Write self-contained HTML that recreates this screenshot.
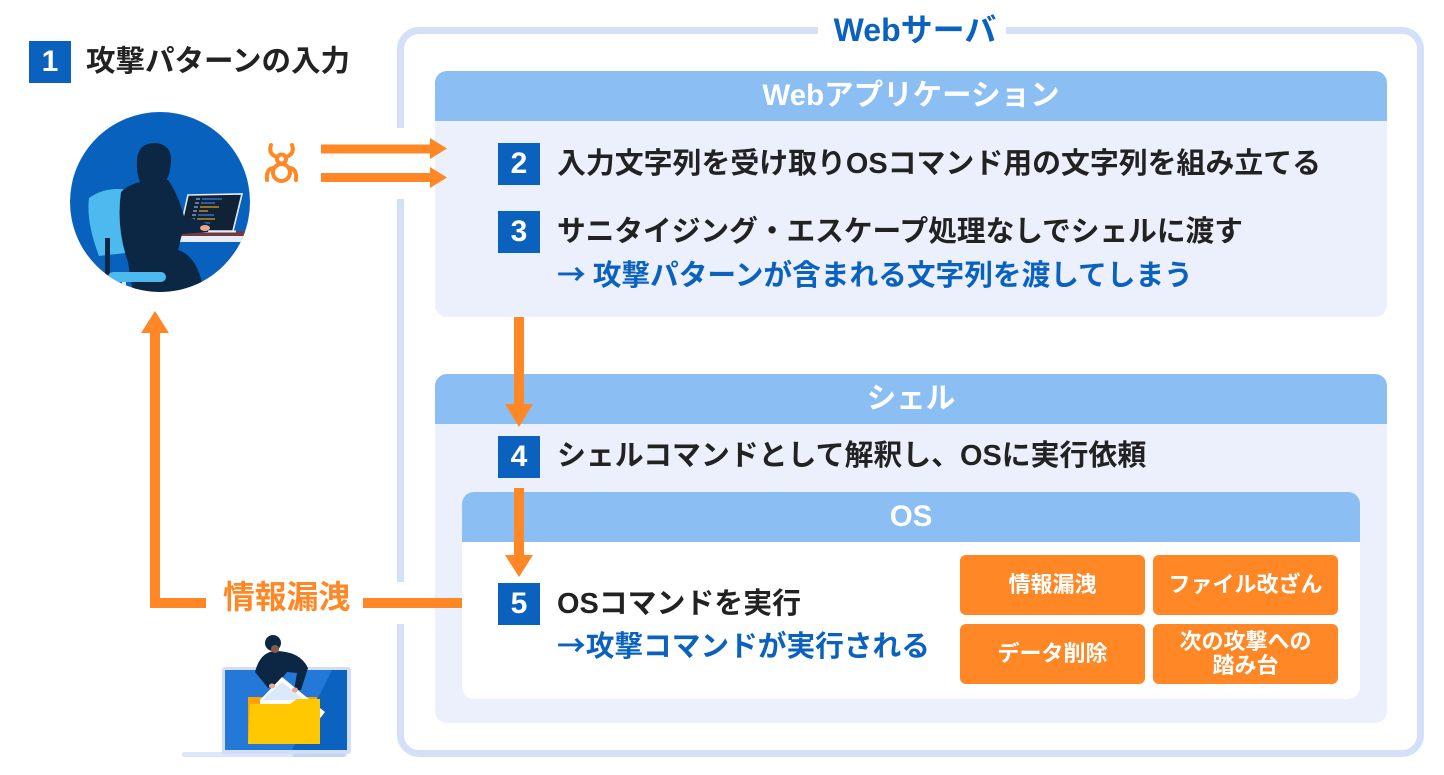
<!DOCTYPE html>
<html lang="ja">
<head>
<meta charset="utf-8">
<style>
  html,body{margin:0;padding:0;background:#fff;}
  body{width:1444px;height:775px;position:relative;overflow:hidden;
    font-family:"Liberation Sans","Noto Sans CJK JP",sans-serif;font-weight:bold;}
  .abs{position:absolute;}
  .t{position:absolute;white-space:nowrap;line-height:40px;height:40px;}
  .dark{color:#222;}
  .blue{color:#0a62be;}
  .badge{position:absolute;width:42px;height:42px;background:#0a62be;color:#fff;
    font-size:30px;line-height:42px;text-align:center;font-family:"Liberation Sans",sans-serif;font-weight:bold;}
  .box{position:absolute;border-radius:12px;overflow:hidden;}
  .hdr{height:50px;background:#8bbef2;color:#fff;text-align:center;line-height:50px;font-size:29.5px;}
  .ob{position:absolute;width:185px;height:60px;background:#ff8726;border-radius:6px;color:#fff;
    font-size:22px;display:flex;align-items:center;justify-content:center;text-align:center;line-height:24px;}
  .arr{font-family:"Noto Sans CJK JP",sans-serif;}
</style>
</head>
<body>

<!-- Outer Web server frame -->
<div class="abs" style="left:397px;top:27px;width:1027px;height:730px;box-sizing:border-box;border:7px solid #d4e0f8;border-radius:22px;"></div>
<!-- gaps -->
<div class="abs" style="left:394px;top:128px;width:14px;height:71px;background:#fff;"></div>
<div class="abs" style="left:394px;top:582px;width:14px;height:42px;background:#fff;"></div>
<div class="abs" style="left:818px;top:20px;width:188px;height:20px;background:#fff;"></div>
<div class="t blue" style="left:815px;top:10px;width:200px;text-align:center;font-size:32px;">Webサーバ</div>

<!-- Web application box -->
<div class="box" style="left:435px;top:71px;width:952px;height:246px;background:#ebf0fc;">
  <div class="hdr">Webアプリケーション</div>
</div>
<!-- Shell box -->
<div class="box" style="left:435px;top:374px;width:952px;height:349px;background:#ebf0fc;">
  <div class="hdr">シェル</div>
</div>
<!-- OS box -->
<div class="box" style="left:462px;top:492px;width:898px;height:207px;background:#fff;">
  <div class="hdr">OS</div>
</div>

<!-- Heading 1 -->
<div class="badge" style="left:29px;top:41px;">1</div>
<div class="t dark" style="left:86px;top:42px;font-size:29.5px;">攻撃パターンの入力</div>

<!-- Step 2 -->
<div class="badge" style="left:498px;top:143px;">2</div>
<div class="t dark" style="left:557px;top:144px;font-size:28.9px;">入力文字列を受け取りOSコマンド用の文字列を組み立てる</div>

<!-- Step 3 -->
<div class="badge" style="left:498px;top:211px;">3</div>
<div class="t dark" style="left:557px;top:212px;font-size:28.7px;">サニタイジング・エスケープ処理なしでシェルに渡す</div>
<div class="t blue" style="left:557px;top:254px;font-size:28.7px;"><span class="arr">→</span><span style="display:inline-block;width:7px;"></span>攻撃パターンが含まれる文字列を渡してしまう</div>

<!-- Step 4 -->
<div class="badge" style="left:498px;top:436px;">4</div>
<div class="t dark" style="left:557px;top:436px;font-size:28.9px;">シェルコマンドとして解釈し、OSに実行依頼</div>

<!-- Step 5 -->
<div class="badge" style="left:498px;top:583px;">5</div>
<div class="t dark" style="left:557px;top:584px;font-size:28.9px;">OSコマンドを実行</div>
<div class="t blue" style="left:557px;top:625px;font-size:28.7px;"><span class="arr">→</span>攻撃コマンドが実行される</div>

<!-- Orange result boxes -->
<div class="ob" style="left:960px;top:555px;">情報漏洩</div>
<div class="ob" style="left:1153px;top:555px;">ファイル改ざん</div>
<div class="ob" style="left:960px;top:624px;">データ削除</div>
<div class="ob" style="left:1153px;top:624px;">次の攻撃への<br>踏み台</div>

<!-- Left label -->
<div class="t" style="left:223px;top:577px;font-size:31.8px;color:#ff8726;">情報漏洩</div>

<!-- Shapes / arrows / illustrations -->
<svg class="abs" style="left:0;top:0;" width="1444" height="775" viewBox="0 0 1444 775" xmlns="http://www.w3.org/2000/svg">
  <defs>
    <clipPath id="cc"><circle cx="160" cy="202" r="90"/></clipPath>
  </defs>

  <!-- horizontal arrows into web app -->
  <rect x="321" y="144.5" width="112" height="9" fill="#ff8726"/>
  <polygon points="430,138 447,148.5 430,159" fill="#ff8726"/>
  <rect x="321" y="173" width="112" height="9" fill="#ff8726"/>
  <polygon points="430,167 447,177.5 430,188" fill="#ff8726"/>

  <!-- down arrow 1 -->
  <rect x="514" y="317" width="10" height="90" fill="#ff8726"/>
  <polygon points="505,404 533,404 519,427" fill="#ff8726"/>
  <!-- down arrow 2 -->
  <rect x="514" y="488" width="10" height="70" fill="#ff8726"/>
  <polygon points="505,555 533,555 519,577" fill="#ff8726"/>

  <!-- leak line and up arrow -->
  <rect x="363" y="598" width="99" height="10" fill="#ff8726"/>
  <rect x="150" y="598" width="56" height="10" fill="#ff8726"/>
  <rect x="150" y="331" width="10" height="277" fill="#ff8726"/>
  <polygon points="141,333 169,333 155,311" fill="#ff8726"/>

  <!-- bug icon -->
  <g fill="none" stroke="#ff8726" stroke-width="4" stroke-linecap="round">
    <path d="M271,145 Q268,154 277,157"/>
    <path d="M292,145 Q295,154 286,157"/>
    <circle cx="281.5" cy="159" r="4.5"/>
    <circle cx="281.5" cy="172.5" r="8.5"/>
    <path d="M273,168 Q266,169 267,180"/>
    <path d="M290,168 Q297,169 296,180"/>
  </g>

  <!-- hacker in circle -->
  <circle cx="160" cy="202" r="90" fill="#0862bd"/>
  <g clip-path="url(#cc)">
    <!-- desk -->
    <rect x="150" y="231" width="110" height="5" fill="#6e3b3f"/>
    <rect x="150" y="236" width="110" height="6" fill="#e6edf8"/>
    <!-- laptop -->
    <polygon points="188,195 242,194 233,231 180,231" fill="#0f2236" stroke="#e6edf8" stroke-width="1.6"/>
    <line x1="178" y1="231.5" x2="236" y2="231.5" stroke="#e6edf8" stroke-width="2"/>
    <g stroke-width="1.3">
      <line x1="196" y1="199" x2="200" y2="199" stroke="#8fb3e8"/><line x1="202" y1="199" x2="222" y2="199" stroke="#3d7fe0"/>
      <line x1="195" y1="203" x2="199" y2="203" stroke="#8fb3e8"/><line x1="201" y1="203" x2="215" y2="203" stroke="#3d7fe0"/>
      <line x1="194" y1="207" x2="198" y2="207" stroke="#8fb3e8"/><line x1="200" y1="207" x2="219" y2="207" stroke="#e0a020"/>
      <line x1="193" y1="211" x2="197" y2="211" stroke="#8fb3e8"/><line x1="199" y1="211" x2="208" y2="211" stroke="#e0a020"/>
      <line x1="192" y1="215" x2="196" y2="215" stroke="#8fb3e8"/><line x1="198" y1="215" x2="214" y2="215" stroke="#3d7fe0"/>
      <line x1="191" y1="219" x2="195" y2="219" stroke="#8fb3e8"/><line x1="197" y1="219" x2="215" y2="219" stroke="#e0a020"/>
      <line x1="190" y1="223" x2="194" y2="223" stroke="#8fb3e8"/><line x1="196" y1="223" x2="210" y2="223" stroke="#3d7fe0"/>
    </g>
    <!-- chair back -->
    <path d="M89,198 Q106,186 128,190 Q136,212 135,252 L99,256 Q86,222 89,198 Z" fill="#4cb9ef"/>
    <!-- figure -->
    <path d="M137,160 Q138,143 155,143 Q172,144 171,162 Q170,176 165,182 L140,182 Q136,172 137,160 Z" fill="#0c2744"/>
    <path d="M121,192 Q135,178 168,180 Q178,194 184,216 L200,221 L210,225 L208,232 L182,234 L178,250 Q198,256 204,292 L133,294 L128,262 Q116,228 121,192 Z" fill="#0c2744"/>
    <ellipse cx="205" cy="228" rx="5" ry="3" fill="#f2a58e"/>
    <!-- chair seat & post -->
    <rect x="105" y="238" width="5" height="40" fill="#0c2744"/>
    <rect x="108" y="272" width="58" height="10" rx="5" fill="#4cb9ef"/>
    <rect x="122" y="282" width="4" height="12" fill="#e6edf8"/>
  </g>

  <!-- laptop with hacker (bottom) -->
  <rect x="182" y="752" width="165" height="5" rx="2" fill="#dce6fa"/>
  <rect x="293" y="752" width="52" height="5" rx="2" fill="#c3d3f5"/>
  <rect x="222" y="667" width="129" height="87" rx="3" fill="#d2def7"/>
  <rect x="225" y="670" width="122" height="80" fill="#2479d8"/>
  <polygon points="332,670 347,670 347,750 292,750" fill="#0b63bf"/>
  <!-- hacker -->
  <path d="M255,672 Q260,652 275,651 Q300,651 308,668 L301,690 L294,690 L297,673 L287,672 L276,686 L268,688 Z" fill="#0c2744"/>
  <circle cx="273" cy="643" r="8" fill="#0c2744"/>
  <ellipse cx="275" cy="649" rx="4" ry="4" fill="#8a5a44"/>
  <!-- folder -->
  <rect x="248" y="697" width="69" height="47" fill="#ffa200"/>
  <polygon points="260,700 282,677 310,700 325,712 300,744 260,744" fill="#ffffff"/>
  <polygon points="262,700 282,682 305,700" fill="#dce9fb"/>
  <path d="M250,704 L290,704 L297,699 L320,699 L320,744 L248,744 Z" fill="#ffc800"/>
  <ellipse cx="272" cy="686" rx="3" ry="2.5" fill="#f2a58e"/>
  <ellipse cx="295" cy="690" rx="3" ry="2.5" fill="#f2a58e"/>
</svg>

</body>
</html>
